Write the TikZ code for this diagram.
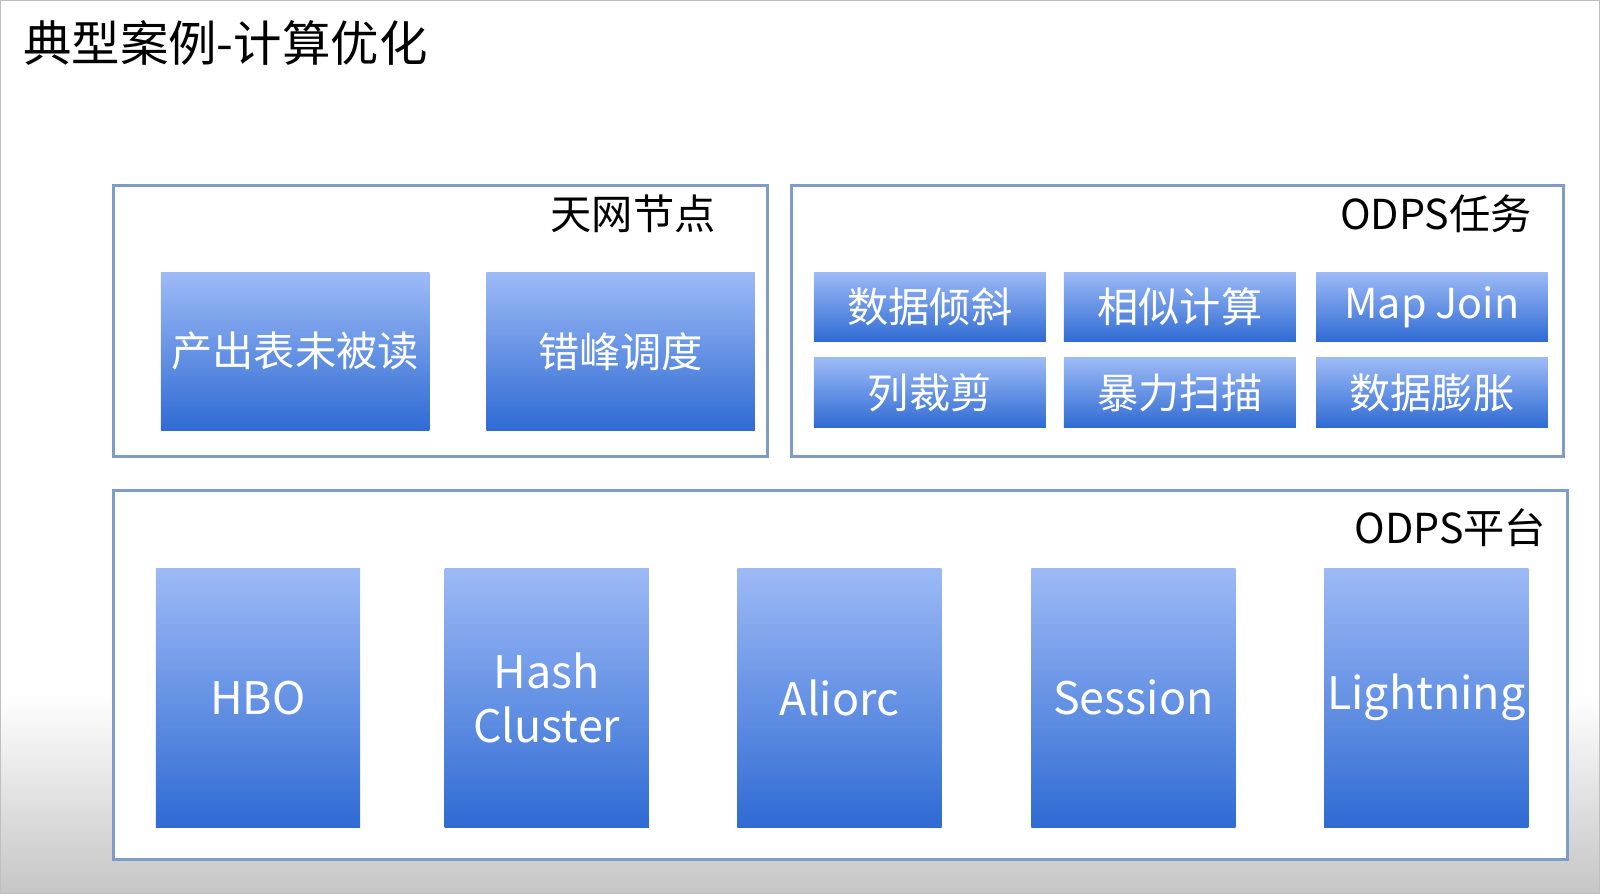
\documentclass[tikz,border=0pt]{standalone}
\usepackage{fontspec}
\setmainfont{Noto Sans CJK SC}
\definecolor{btop}{HTML}{9DBAF6}
\definecolor{bbot}{HTML}{2F6BD3}
\definecolor{pline}{HTML}{7F9CC6}
\begin{document}
\begin{tikzpicture}[x=0.01cm,y=-0.01cm,
  panel/.style={draw=pline,line width=0.8pt,fill=white,inner sep=0pt},
  bbox/.style={draw=none,top color=btop,bottom color=bbot,text=white,font=\fontsize{11.5}{13}\selectfont,inner sep=0pt,align=center},
  plabel/.style={anchor=east,inner sep=0pt,font=\fontsize{11.5}{13}\selectfont,text=black}]
\useasboundingbox (0,0) rectangle (1568,876);
\fill[white] (0,0) rectangle (1568,876);
\shade[top color=white,bottom color=gray!45] (0,680) rectangle (1568,876);
\draw[gray!50] (0,0) rectangle (1568,876);
\node[anchor=west,inner sep=0pt,font=\fontsize{13.5}{15}\selectfont] (title) at (22,42) {典型案例-计算优化};
\node[panel,minimum width=6.40cm,minimum height=2.66cm,anchor=north west] (p1) at (110,180) {};
\node[panel,minimum width=7.56cm,minimum height=2.66cm,anchor=north west] (p2) at (774,180) {};
\node[panel,minimum width=14.24cm,minimum height=3.62cm,anchor=north west] (p3) at (110,479) {};
\node[plabel] (l1) at (702,210) {天网节点};
\node[plabel] (l2) at (1502,210) {ODPS任务};
\node[plabel] (l3) at (1516,517) {ODPS平台};
\foreach \n/\x/\t in {a/157/产出表未被读,b/476/错峰调度}
  \node[bbox,minimum width=2.63cm,minimum height=1.55cm,anchor=north west] (\n) at (\x,266) {\t};
\foreach \n/\x/\y/\t in {c/797/266/数据倾斜,d/1042/266/相似计算,e/1289/266/Map Join,f/797/350/列裁剪,g/1042/350/暴力扫描,h/1289/350/数据膨胀}
  \node[bbox,minimum width=2.27cm,minimum height=0.68cm,anchor=north west] (\n) at (\x,\y) {\t};
\foreach \n/\x/\t in {i/152/HBO,j/435/{Hash\\Cluster},k/722/Aliorc,l/1010/Session,m/1297/Lightning}
  \node[bbox,minimum width=2.0cm,minimum height=2.54cm,anchor=north west,font=\fontsize{12.5}{15}\selectfont] (\n) at (\x,556) {\t};
\end{tikzpicture}
\end{document}
